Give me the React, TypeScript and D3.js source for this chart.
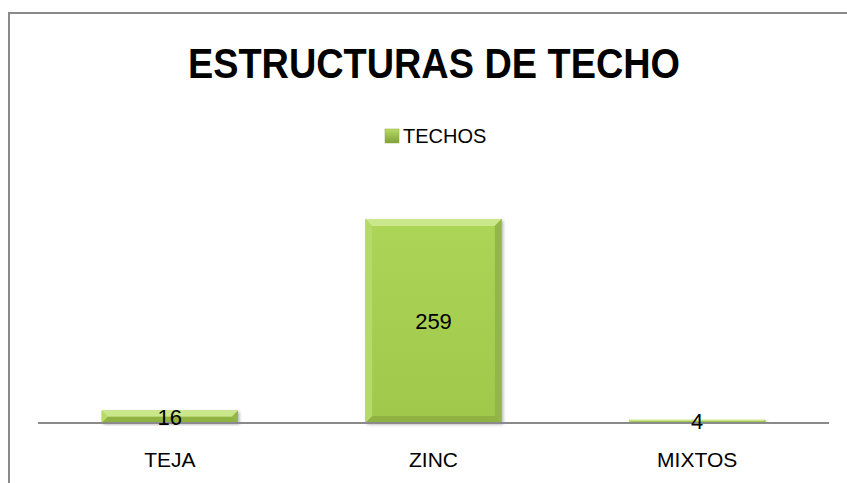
import React from "react";
import * as d3 from "d3";

const categories = ["TEJA", "ZINC", "MIXTOS"];
const values = [16, 259, 4];
const seriesName = "TECHOS";
const title = "ESTRUCTURAS DE TECHO";

const W = 847;
const H = 483;
const plotLeft = 38;
const plotRight = 829;
const axisY = 423;

export default function App() {
  const x = d3.scaleBand<string>().domain(categories).range([plotLeft, plotRight]).paddingInner(0.483).paddingOuter(0.2415);
  const y = d3.scaleLinear().domain([0, 300]).range([axisY, axisY - 300 * 0.7876]);
  const font = "'Liberation Sans', Arial, sans-serif";

  return (
    <svg width={W} height={H} style={{ position: "absolute", left: 0, top: 0, display: "block", background: "#fff" }}>
      <defs>
        <linearGradient id="face" x1="0" y1="0" x2="0" y2="1">
          <stop offset="0" stopColor="#acd456" />
          <stop offset="1" stopColor="#a0c94b" />
        </linearGradient>
        <linearGradient id="leg" x1="0" y1="0" x2="0" y2="1">
          <stop offset="0" stopColor="#b8dc64" />
          <stop offset="1" stopColor="#7f9f3a" />
        </linearGradient>
        <filter id="sh" x="-10%" y="-10%" width="130%" height="130%">
          <feDropShadow dx="1.5" dy="1.5" stdDeviation="1.5" floodColor="#000" floodOpacity="0.3" />
        </filter>
      </defs>
      <rect x={9} y={13} width={W + 20} height={H + 20} fill="#fff" stroke="#8a8a8a" strokeWidth={2} />

      <text x={434} y={78} textAnchor="middle" fontFamily={font} fontWeight="bold" fontSize={42} textLength={492} lengthAdjust="spacingAndGlyphs" fill="#000">
        {title}
      </text>

      <rect x={385} y={129} width={14} height={14} fill="url(#leg)" stroke="#8aa84a" strokeWidth={0.5} />
      <text x={403} y={143} fontFamily={font} fontSize={20} fill="#000">{seriesName}</text>

      {categories.map((c, i) => {
        const x0 = x(c)!;
        const bw = x.bandwidth();
        const y0 = y(values[i]);
        const h = axisY - y0;
        const b = Math.min(7, h / 2);
        const x1 = x0 + bw;
        const y1 = axisY;
        return (
          <g key={c}>
            <g filter="url(#sh)">
              <rect x={x0} y={y0} width={bw} height={h} fill="url(#face)" />
            </g>
            <polygon points={`${x0},${y0} ${x1},${y0} ${x1 - b},${y0 + b} ${x0 + b},${y0 + b}`} fill="#cbe78c" />
            <polygon points={`${x0},${y0} ${x0 + b},${y0 + b} ${x0 + b},${y1 - b} ${x0},${y1}`} fill="#b6da68" />
            <polygon points={`${x1},${y0} ${x1},${y1} ${x1 - b},${y1 - b} ${x1 - b},${y0 + b}`} fill="#93b746" />
            <polygon points={`${x0},${y1} ${x1},${y1} ${x1 - b},${y1 - b} ${x0 + b},${y1 - b}`} fill="#8fb243" />
            <rect x={x0 + b} y={y0 + b} width={Math.max(0, bw - 2 * b)} height={Math.max(0, h - 2 * b)} fill="url(#face)" />
          </g>
        );
      })}

      <line x1={plotLeft} x2={plotRight} y1={axisY} y2={axisY} stroke="#8a8a8a" strokeWidth={2} />

      {categories.map((c, i) => {
        const cx = x(c)! + x.bandwidth() / 2;
        const cy = (y(values[i]) + axisY) / 2;
        return (
          <text key={"v" + c} x={cx} y={cy} dy="0.36em" textAnchor="middle" fontFamily={font} fontSize={22} fill="#000">
            {values[i]}
          </text>
        );
      })}

      {categories.map((c) => (
        <text key={"l" + c} x={x(c)! + x.bandwidth() / 2} y={467} textAnchor="middle" fontFamily={font} fontSize={21} fill="#000">
          {c}
        </text>
      ))}
    </svg>
  );
}
